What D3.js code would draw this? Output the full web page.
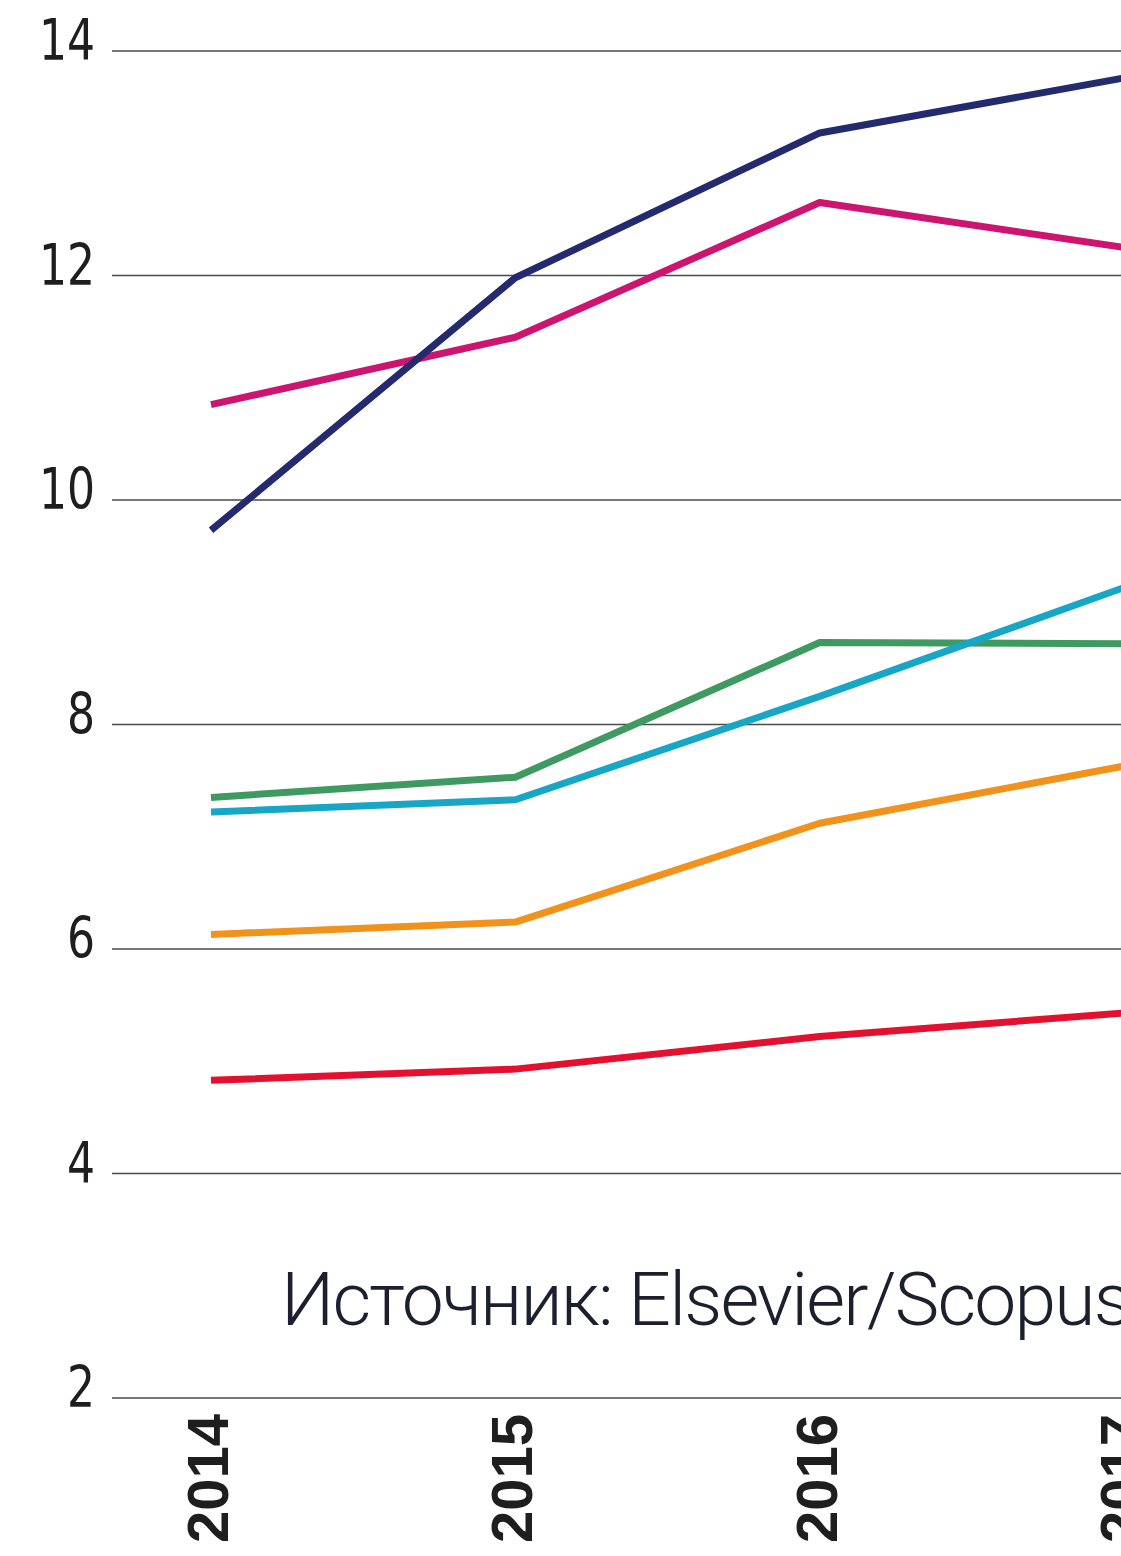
<!DOCTYPE html>
<html>
<head>
<meta charset="utf-8">
<script src="https://cdn.jsdelivr.net/npm/d3@7"></script>
<style>
    html, body { margin: 0; padding: 0; background: #fff; }
    svg { display: block; }
</style>
</head>
<body>
<svg id="chart" width="1121" height="1556"></svg>
<script>
// данные
const years = [2014, 2015, 2016, 2017];
const yTicks = [2, 4, 6, 8, 10, 12, 14];
const navy = [9.73, 11.98, 13.27, 13.76];
const magenta = [10.85, 11.45, 12.65, 12.25];
const green = [7.35, 7.53, 8.73, 8.72];
const cyan = [7.22, 7.33, 8.25, 9.22];
const orange = [6.13, 6.24, 7.12, 7.63];
const red = [4.83, 4.93, 5.22, 5.43];
const sourceText = "Источник: Elsevier/Scopus";

const series = [
    { values: green, color: "#3f9a62" },
    { values: cyan, color: "#17a6c6" },
    { values: orange, color: "#f0921c" },
    { values: red, color: "#e3112f" },
    { values: magenta, color: "#cc1470" },
    { values: navy, color: "#232a6e" },
];

const svg = d3.select("#chart");

const x = d3.scaleLinear().domain([2014, 2017]).range([211, 1124]);
const y = d3.scaleLinear().domain([2, 14]).range([1398, 51]);

// сетка
svg.selectAll(".grid-line")
    .data(yTicks)
    .enter().append("line")
    .attr("class", "grid-line")
    .attr("x1", 112).attr("x2", 1121)
    .attr("y1", d => y(d)).attr("y2", d => y(d))
    .attr("stroke", "#4a4a4a").attr("stroke-width", 1.5);

// подписи оси Y (узкие)
svg.selectAll(".y-label")
    .data(yTicks)
    .enter().append("text")
    .attr("class", "y-label")
    .attr("transform", d => `translate(95, ${y(d) + 9}) scale(0.86, 1)`)
    .attr("text-anchor", "end")
    .attr("font-family", "'DejaVu Sans Condensed', 'DejaVu Sans', sans-serif")
    .attr("font-size", 57)
    .attr("fill", "#1e1e1e")
    .text(d => d);

// подписи оси X (повёрнутые)
svg.selectAll(".x-label")
    .data(years)
    .enter().append("text")
    .attr("class", "x-label")
    .attr("transform", d => `translate(${x(d) - 4}, 1543) rotate(-90)`)
    .attr("dy", "0.36em")
    .attr("text-anchor", "start")
    .attr("font-family", "'Liberation Sans', Arial, sans-serif")
    .attr("font-weight", "bold")
    .attr("font-size", 58)
    .attr("fill", "#1e1e1e")
    .text(d => d);

// линии
const line = d3.line()
    .x((d, i) => x(years[i]))
    .y(d => y(d));

svg.selectAll(".series")
    .data(series)
    .enter().append("path")
    .attr("class", "series")
    .attr("d", d => line(d.values))
    .attr("fill", "none")
    .attr("stroke", d => d.color)
    .attr("stroke-width", 7)
    .attr("stroke-linejoin", "round");

// источник
svg.append("text")
    .attr("x", 281)
    .attr("y", 1325)
    .attr("font-family", "Roboto, sans-serif")
    .attr("font-weight", 300)
    .attr("font-size", 75)
    .attr("letter-spacing", -1.8)
    .attr("fill", "#1d1f2f")
    .text(sourceText);
</script>
</body>
</html>
